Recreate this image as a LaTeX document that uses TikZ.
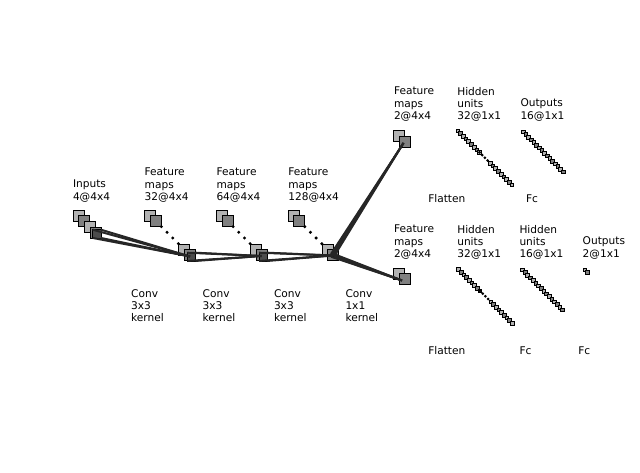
\documentclass[tikz,border=0pt]{standalone}
\usepackage{fontspec}
\setmainfont{DejaVu Sans}
\definecolor{lightc}{gray}{0.7}
\definecolor{mediumc}{gray}{0.5}
\definecolor{darkc}{gray}{0.3}
\definecolor{darkerc}{gray}{0.15}
\tikzset{
  fmap/.style={draw=black, line width=0.9pt, minimum size=11pt, inner sep=0pt, outer sep=0pt, anchor=north west},
  patchbox/.style={fill=darkc, draw=black, line width=0.5pt, inner sep=0pt, outer sep=0pt, anchor=north west},
  unitbox/.style={draw=black, line width=0.7pt, minimum size=3.7pt, inner sep=0pt, outer sep=0pt, anchor=north west},
  dotmark/.style={circle, fill=black, inner sep=0pt, minimum size=3.3pt},
  conn/.style={draw=darkerc, line width=2pt},
  lbl/.style={anchor=north west, inner sep=0pt, outer sep=0pt, align=left, font=\fontsize{10.6}{12.4}\selectfont}
}
\begin{document}
\begin{tikzpicture}[x=1pt,y=-1pt]
\useasboundingbox (0,0) rectangle (640,473);
\def\dd{5.67}
% ---------- Inputs ----------
\foreach \i/\c in {0/lightc,1/mediumc,2/lightc,3/mediumc}
  \node[fmap, fill=\c] (in\i) at ({73+\dd*\i},{210+\dd*\i}) {};
\node[patchbox, minimum size=8.25pt] (pin) at (92.7,229.7) {};
% ---------- conv layers ----------
\foreach \n/\x in {a/144.7,b/216.4,c/288.1}{
  \node[fmap, fill=lightc] (\n0) at (\x,210) {};
  \node[fmap, fill=mediumc] (\n1) at ({\x+\dd},{210+\dd}) {};
  \node[fmap, fill=lightc] (\n6) at ({\x+6*\dd},{210+6*\dd}) {};
  \node[fmap, fill=mediumc] (\n7) at ({\x+7*\dd},{210+7*\dd}) {};
  \foreach \k in {0,1,2,3}
    \node[dotmark] (\n dot\k) at ({\x+16.67+\dd*\k},{226.67+\dd*\k}) {};
}
\node[patchbox, minimum size=8.25pt] (pa) at (187.4,252.7) {};
\node[patchbox, minimum size=8.25pt] (pb) at (259.1,252.7) {};
\node[patchbox, minimum size=2.75pt] (pc) at (331,254) {};
% ---------- feature maps 2@4x4 ----------
\node[fmap, fill=lightc] (t0) at (393.5,130.3) {};
\node[fmap, fill=mediumc] (t1) at (399.2,136) {};
\node[fmap, fill=lightc] (u0) at (393.5,268) {};
\node[fmap, fill=mediumc] (u1) at (399.2,273.7) {};
% ---------- end points ----------
\coordinate (ea) at (190,256.5);
\coordinate (eb) at (261.5,256);
\coordinate (ec) at (333,255.5);
\coordinate (et) at (403.5,143);
\coordinate (eu) at (402,280.5);
% ---------- connectors ----------
\foreach \p/\e in {pin/ea,pa/eb,pb/ec,pc/et,pc/eu}{
  \draw[conn] (\p.north west) -- (\e);
  \draw[conn] (\p.north east) -- (\e);
  \draw[conn] (\p.south west) -- (\e);
  \draw[conn] (\p.south east) -- (\e);
}
% ---------- fully connected units ----------
\def\us{2.7}
% top hidden 32
\foreach \i in {0,...,8,12,13,...,20}{
  \pgfmathtruncatemacro{\m}{mod(\i,2)}
  \ifnum\m=0 \def\cc{lightc}\else\def\cc{mediumc}\fi
  \node[unitbox, fill=\cc] (th\i) at ({456+\us*\i},{129+\us*\i}) {};
}
\foreach \k in {8,9,10,11}
  \node[dotmark, minimum size=3pt] (thd\k) at ({456+1.85+\us*\k},{129+1.85+\us*\k}) {};
% top outputs 16
\foreach \i in {0,...,15}{
  \pgfmathtruncatemacro{\m}{mod(\i,2)}
  \ifnum\m=0 \def\cc{lightc}\else\def\cc{mediumc}\fi
  \node[unitbox, fill=\cc] (to\i) at ({521.2+2.67*\i},{130+2.67*\i}) {};
}
% bottom hidden 32
\foreach \i in {0,...,8,12,13,...,20}{
  \pgfmathtruncatemacro{\m}{mod(\i,2)}
  \ifnum\m=0 \def\cc{lightc}\else\def\cc{mediumc}\fi
  \node[unitbox, fill=\cc] (bh\i) at ({456.5+\us*\i},{267.5+\us*\i}) {};
}
\foreach \k in {8,9,10,11}
  \node[dotmark, minimum size=3pt] (bhd\k) at ({456.5+1.85+\us*\k},{267.5+1.85+\us*\k}) {};
% bottom hidden 16
\foreach \i in {0,...,15}{
  \pgfmathtruncatemacro{\m}{mod(\i,2)}
  \ifnum\m=0 \def\cc{lightc}\else\def\cc{mediumc}\fi
  \node[unitbox, fill=\cc] (bg\i) at ({520.5+2.67*\i},{268+2.67*\i}) {};
}
% bottom outputs 2
\node[unitbox, fill=lightc] (bo0) at (583,268) {};
\node[unitbox, fill=mediumc] (bo1) at (585.67,270.67) {};
% ---------- labels ----------
\node[lbl] (l1) at (73,180) {Inputs\\4@4x4};
\node[lbl] (l2) at (144.7,168) {Feature\\maps\\32@4x4};
\node[lbl] (l3) at (216.5,168) {Feature\\maps\\64@4x4};
\node[lbl] (l4) at (288.3,168) {Feature\\maps\\128@4x4};
\node[lbl] (l5) at (394,87) {Feature\\maps\\2@4x4};
\node[lbl] (l6) at (457.3,87) {Hidden\\units\\32@1x1};
\node[lbl] (l7) at (520.5,99) {Outputs\\16@1x1};
\node[lbl] (l8) at (394,225) {Feature\\maps\\2@4x4};
\node[lbl] (l9) at (457.3,225) {Hidden\\units\\32@1x1};
\node[lbl] (l10) at (519.5,225) {Hidden\\units\\16@1x1};
\node[lbl] (l11) at (582.7,237) {Outputs\\2@1x1};
\node[lbl] (c1) at (131.2,289.3) {Conv\\3x3\\kernel};
\node[lbl] (c2) at (202.7,289.3) {Conv\\3x3\\kernel};
\node[lbl] (c3) at (274,289.3) {Conv\\3x3\\kernel};
\node[lbl] (c4) at (345.5,289.3) {Conv\\1x1\\kernel};
\node[lbl] (f1) at (428.3,194.7) {Flatten};
\node[lbl] (f2) at (526,194.7) {Fc};
\node[lbl] (f3) at (428.3,346.7) {Flatten};
\node[lbl] (f4) at (519.5,346.7) {Fc};
\node[lbl] (f5) at (578.3,346.7) {Fc};
\end{tikzpicture}
\end{document}
